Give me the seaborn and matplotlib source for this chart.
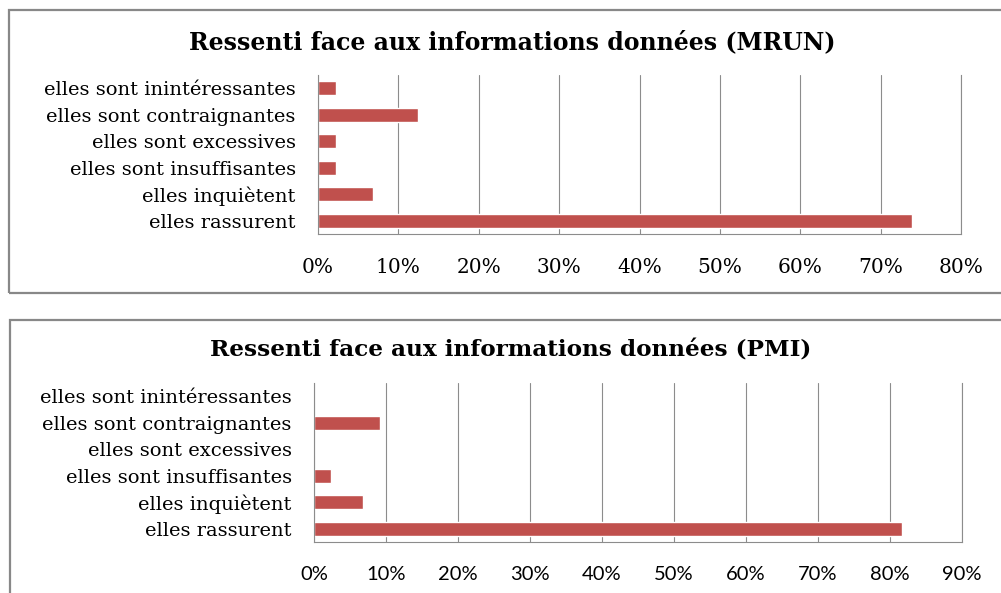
import matplotlib
matplotlib.use("Agg")
import matplotlib.pyplot as plt
import seaborn as sns
import pandas as pd
from matplotlib.patches import Rectangle
from matplotlib.ticker import PercentFormatter, MultipleLocator

categories = [
    "elles sont inintéressantes",
    "elles sont contraignantes",
    "elles sont excessives",
    "elles sont insuffisantes",
    "elles inquiètent",
    "elles rassurent",
]
mrun_values = [2.2, 12.4, 2.2, 2.2, 6.9, 73.9]
pmi_values = [0.0, 9.2, 0.0, 2.3, 6.8, 81.7]
mrun_title = "Ressenti face aux informations données (MRUN)"
pmi_title = "Ressenti face aux informations données (PMI)"

sns.set_theme(style="white")
plt.rcParams["text.color"] = "black"
W, H = 1001, 593
fig = plt.figure(figsize=(W / 100, H / 100), dpi=100)
fig.patch.set_facecolor("white")

BAR = "#C0504D"
GRID = "#8C8C8C"
FRAME = "#888888"


def px_axes(l, t, r, b):
    return fig.add_axes([l / W, 1 - b / H, (r - l) / W, (b - t) / H])


def draw(ax, values, xmax, lab_family, lab_size, tick_family, tick_size):
    df = pd.DataFrame({"cat": categories, "val": values})
    sns.barplot(data=df, x="val", y="cat", orient="h", color=BAR,
                width=0.52, saturation=1, ax=ax, order=categories)
    ax.set_xlim(0, xmax)
    ax.set_ylim(len(categories) - 0.5, -0.5)
    ax.xaxis.set_major_locator(MultipleLocator(10))
    ax.xaxis.set_major_formatter(PercentFormatter(decimals=0))
    ax.grid(axis="x", color=GRID, linewidth=0.8)
    ax.grid(axis="y", visible=False)
    ax.set_axisbelow(True)
    ax.set_xlabel("")
    ax.set_ylabel("")
    for s in ["left", "bottom", "right"]:
        ax.spines[s].set_visible(True)
        ax.spines[s].set_color(GRID)
        ax.spines[s].set_linewidth(0.8)
    ax.spines["top"].set_visible(False)
    ax.tick_params(axis="y", length=0, pad=16)
    ax.tick_params(axis="x", length=0, pad=17)
    for t in ax.get_yticklabels():
        t.set_fontfamily(lab_family)
        t.set_fontsize(lab_size)
        t.set_color("black")
    for t in ax.get_xticklabels():
        t.set_fontfamily(tick_family)
        t.set_fontsize(tick_size)
        t.set_color("black")
    ax.set_facecolor("white")


# frames
fig.patches.append(Rectangle((9 / W, 1 - 293 / H), 1.2, (293 - 10) / H,
                             transform=fig.transFigure, fill=False,
                             edgecolor=FRAME, linewidth=1.6))
fig.patches.append(Rectangle((10 / W, -0.2), 1.2, 0.2 + 1 - 320 / H,
                             transform=fig.transFigure, fill=False,
                             edgecolor=FRAME, linewidth=1.6))

ax1 = px_axes(318, 75, 961, 234)
draw(ax1, mrun_values, 80, "DejaVu Serif", 14, "DejaVu Serif", 14.5)
fig.text(512 / W, 1 - 42 / H, mrun_title, ha="center", va="center",
         fontfamily="DejaVu Serif", fontweight="bold", fontsize=17,
         color="black")

ax2 = px_axes(314, 383, 962, 542)
draw(ax2, pmi_values, 90, "DejaVu Serif", 14, "Lato", 14.5)
fig.text(511 / W, 1 - 350 / H, pmi_title, ha="center", va="center",
         fontfamily="DejaVu Serif", fontweight="bold", fontsize=16.7,
         color="black")

fig.savefig("out.png", dpi=100, facecolor="white")
